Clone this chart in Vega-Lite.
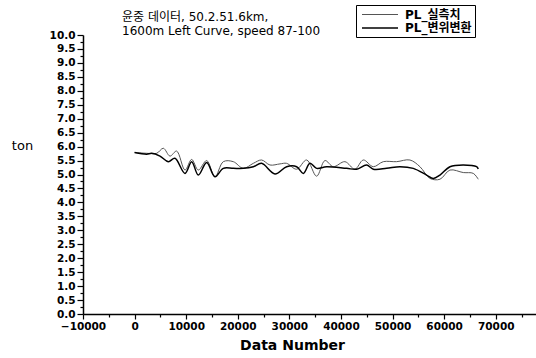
{
  "$schema": "https://vega.github.io/schema/vega-lite/v6.json",
  "width": 454,
  "height": 279,
  "autosize": {"type": "none"},
  "padding": {"left": 83, "top": 35, "right": 0, "bottom": 44},
  "background": "white",
  "config": {"view": {"stroke": null}},
  "title": {
    "text": ["윤중 데이터, 50.2.51.6km,", "1600m Left Curve, speed 87-100"],
    "anchor": "start",
    "frame": "group",
    "dx": 39,
    "offset": -33,
    "font": "DejaVu Sans, Noto Sans CJK KR",
    "fontSize": 12,
    "fontWeight": "normal",
    "lineHeight": 14,
    "color": "#000"
  },
  "data": {
    "values": [
      {"n": 0, "ton": 5.79, "s": "PL_실측치"},
      {"n": 2340, "ton": 5.76, "s": "PL_실측치"},
      {"n": 4280, "ton": 5.76, "s": "PL_실측치"},
      {"n": 5570, "ton": 5.94, "s": "PL_실측치"},
      {"n": 6860, "ton": 5.66, "s": "PL_실측치"},
      {"n": 8150, "ton": 5.84, "s": "PL_실측치"},
      {"n": 9770, "ton": 5.16, "s": "PL_실측치"},
      {"n": 11060, "ton": 5.54, "s": "PL_실측치"},
      {"n": 12350, "ton": 5.16, "s": "PL_실측치"},
      {"n": 13970, "ton": 5.5, "s": "PL_실측치"},
      {"n": 15580, "ton": 4.92, "s": "PL_실측치"},
      {"n": 17200, "ton": 5.46, "s": "PL_실측치"},
      {"n": 19130, "ton": 5.46, "s": "PL_실측치"},
      {"n": 21070, "ton": 5.22, "s": "PL_실측치"},
      {"n": 23010, "ton": 5.4, "s": "PL_실측치"},
      {"n": 24620, "ton": 5.52, "s": "PL_실측치"},
      {"n": 26240, "ton": 5.34, "s": "PL_실측치"},
      {"n": 28180, "ton": 5.38, "s": "PL_실측치"},
      {"n": 29470, "ton": 5.4, "s": "PL_실측치"},
      {"n": 31410, "ton": 5.19, "s": "PL_실측치"},
      {"n": 33350, "ton": 5.52, "s": "PL_실측치"},
      {"n": 35280, "ton": 4.94, "s": "PL_실측치"},
      {"n": 36900, "ton": 5.5, "s": "PL_실측치"},
      {"n": 38510, "ton": 5.28, "s": "PL_실측치"},
      {"n": 40770, "ton": 5.46, "s": "PL_실측치"},
      {"n": 42710, "ton": 5.19, "s": "PL_실측치"},
      {"n": 44330, "ton": 5.52, "s": "PL_실측치"},
      {"n": 46270, "ton": 5.28, "s": "PL_실측치"},
      {"n": 48210, "ton": 5.46, "s": "PL_실측치"},
      {"n": 50790, "ton": 5.46, "s": "PL_실측치"},
      {"n": 53370, "ton": 5.52, "s": "PL_실측치"},
      {"n": 55310, "ton": 5.28, "s": "PL_실측치"},
      {"n": 57250, "ton": 4.86, "s": "PL_실측치"},
      {"n": 59190, "ton": 4.83, "s": "PL_실측치"},
      {"n": 61130, "ton": 5.16, "s": "PL_실측치"},
      {"n": 63710, "ton": 5.07, "s": "PL_실측치"},
      {"n": 65650, "ton": 5.04, "s": "PL_실측치"},
      {"n": 66610, "ton": 4.83, "s": "PL_실측치"},
      {"n": 0, "ton": 5.79, "s": "PL_변위변환"},
      {"n": 2340, "ton": 5.73, "s": "PL_변위변환"},
      {"n": 3310, "ton": 5.76, "s": "PL_변위변환"},
      {"n": 4920, "ton": 5.66, "s": "PL_변위변환"},
      {"n": 6540, "ton": 5.46, "s": "PL_변위변환"},
      {"n": 7820, "ton": 5.58, "s": "PL_변위변환"},
      {"n": 9770, "ton": 5.04, "s": "PL_변위변환"},
      {"n": 11060, "ton": 5.46, "s": "PL_변위변환"},
      {"n": 12350, "ton": 4.98, "s": "PL_변위변환"},
      {"n": 13970, "ton": 5.43, "s": "PL_변위변환"},
      {"n": 15580, "ton": 4.92, "s": "PL_변위변환"},
      {"n": 17200, "ton": 5.22, "s": "PL_변위변환"},
      {"n": 19130, "ton": 5.22, "s": "PL_변위변환"},
      {"n": 21070, "ton": 5.22, "s": "PL_변위변환"},
      {"n": 23010, "ton": 5.28, "s": "PL_변위변환"},
      {"n": 24620, "ton": 5.4, "s": "PL_변위변환"},
      {"n": 27210, "ton": 5.02, "s": "PL_변위변환"},
      {"n": 29470, "ton": 5.28, "s": "PL_변위변환"},
      {"n": 31410, "ton": 5.28, "s": "PL_변위변환"},
      {"n": 32700, "ton": 5.04, "s": "PL_변위변환"},
      {"n": 33990, "ton": 5.4, "s": "PL_변위변환"},
      {"n": 35280, "ton": 5.22, "s": "PL_변위변환"},
      {"n": 37220, "ton": 5.28, "s": "PL_변위변환"},
      {"n": 41100, "ton": 5.22, "s": "PL_변위변환"},
      {"n": 43040, "ton": 5.19, "s": "PL_변위변환"},
      {"n": 44970, "ton": 5.34, "s": "PL_변위변환"},
      {"n": 46270, "ton": 5.19, "s": "PL_변위변환"},
      {"n": 48850, "ton": 5.22, "s": "PL_변위변환"},
      {"n": 51430, "ton": 5.28, "s": "PL_변위변환"},
      {"n": 54020, "ton": 5.22, "s": "PL_변위변환"},
      {"n": 56600, "ton": 4.98, "s": "PL_변위변환"},
      {"n": 57890, "ton": 4.86, "s": "PL_변위변환"},
      {"n": 59190, "ton": 4.98, "s": "PL_변위변환"},
      {"n": 61130, "ton": 5.28, "s": "PL_변위변환"},
      {"n": 63710, "ton": 5.34, "s": "PL_변위변환"},
      {"n": 66290, "ton": 5.28, "s": "PL_변위변환"},
      {"n": 66610, "ton": 5.2, "s": "PL_변위변환"}
    ]
  },
  "mark": {"type": "line", "interpolate": "catmull-rom"},
  "encoding": {
    "x": {
      "field": "n",
      "type": "quantitative",
      "scale": {"domain": [-10000, 78000], "nice": false, "zero": false},
      "axis": {
        "values": [-10000, -5000, 0, 5000, 10000, 15000, 20000, 25000, 30000, 35000, 40000, 45000, 50000, 55000, 60000, 65000, 70000, 75000],
        "labelExpr": "datum.value % 10000 === 0 ? format(datum.value, 'd') : ''",
        "tickSize": {"condition": {"test": "datum.value % 10000 === 0", "value": 5}, "value": 3},
        "grid": false,
        "domainColor": "#000",
        "domainWidth": 1.5,
        "tickColor": "#000",
        "tickWidth": 1.2,
        "labelFont": "DejaVu Sans",
        "labelFontSize": 10.5,
        "labelFontWeight": "bold",
        "labelColor": "#000",
        "labelPadding": 2,
        "labelFlush": false,
        "labelOverlap": false,
        "title": "Data Number",
        "titleFont": "DejaVu Sans",
        "titleFontSize": 14,
        "titleFontWeight": "bold",
        "titleColor": "#000",
        "titleX": 209,
        "titleY": 31,
        "titleBaseline": "middle"
      }
    },
    "y": {
      "field": "ton",
      "type": "quantitative",
      "scale": {"domain": [0, 10], "nice": false},
      "axis": {
        "values": [0, 0.25, 0.5, 0.75, 1, 1.25, 1.5, 1.75, 2, 2.25, 2.5, 2.75, 3, 3.25, 3.5, 3.75, 4, 4.25, 4.5, 4.75, 5, 5.25, 5.5, 5.75, 6, 6.25, 6.5, 6.75, 7, 7.25, 7.5, 7.75, 8, 8.25, 8.5, 8.75, 9, 9.25, 9.5, 9.75, 10],
        "labelExpr": "(datum.value * 2) % 1 === 0 ? format(datum.value, '.1f') : ''",
        "tickSize": {"condition": {"test": "(datum.value * 2) % 1 === 0", "value": 6}, "value": 3},
        "grid": false,
        "domainColor": "#000",
        "domainWidth": 1.5,
        "tickColor": "#000",
        "tickWidth": 1.2,
        "labelFont": "DejaVu Sans",
        "labelFontSize": 10.5,
        "labelFontWeight": "bold",
        "labelColor": "#000",
        "labelPadding": 2,
        "labelOverlap": false,
        "labelFlush": false,
        "title": "ton",
        "titleAngle": 0,
        "titleFont": "DejaVu Sans",
        "titleFontSize": 13,
        "titleFontWeight": "normal",
        "titleColor": "#000",
        "titleX": -61,
        "titleY": 110,
        "titleAlign": "center",
        "titleBaseline": "middle"
      }
    },
    "color": {
      "field": "s",
      "type": "nominal",
      "scale": {"domain": ["PL_실측치", "PL_변위변환"], "range": ["#555555", "#000000"]},
      "legend": {
        "title": null,
        "orient": "none",
        "legendX": 273,
        "legendY": -30,
        "strokeColor": "#000",
        "padding": 3,
        "cornerRadius": 0,
        "symbolType": "M-3,0H3",
        "symbolSize": 144,
        "symbolOffset": 14,
        "symbolStrokeWidth": 1.2,
        "labelFont": "DejaVu Sans, Noto Sans CJK KR",
        "labelFontSize": 12,
        "labelFontWeight": "bold",
        "labelColor": "#000",
        "labelOffset": 18,
        "rowPadding": -3
      }
    },
    "strokeWidth": {
      "field": "s",
      "type": "nominal",
      "scale": {"domain": ["PL_실측치", "PL_변위변환"], "range": [1, 1.5]},
      "legend": null
    }
  }
}
